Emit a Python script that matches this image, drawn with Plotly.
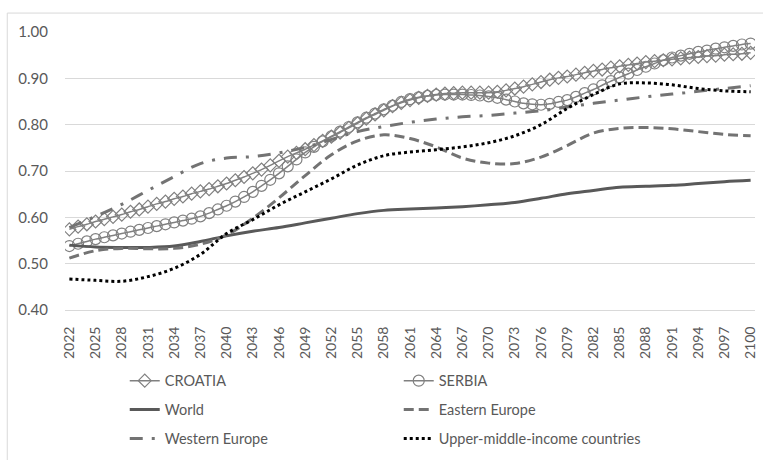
import plotly.graph_objects as go

# ---------------- data ----------------
years = list(range(2022, 2101))           # annual points (markers)
tick_years = list(range(2022, 2101, 3))   # 3-year points

croatia = [0.574, 0.580, 0.585, 0.591, 0.596, 0.601, 0.606, 0.612, 0.617, 0.623,
           0.629, 0.634, 0.640, 0.645, 0.651, 0.656, 0.661, 0.667, 0.673, 0.680,
           0.687, 0.695, 0.703, 0.712, 0.722, 0.731, 0.739, 0.747, 0.756, 0.765,
           0.774, 0.783, 0.793, 0.803, 0.813, 0.822, 0.831, 0.840, 0.847, 0.853,
           0.858, 0.862, 0.865, 0.867, 0.868, 0.869, 0.869, 0.869, 0.869, 0.871,
           0.874, 0.878, 0.882, 0.887, 0.892, 0.897, 0.901, 0.904, 0.908, 0.912,
           0.916, 0.919, 0.923, 0.926, 0.929, 0.932, 0.935, 0.937, 0.939, 0.941,
           0.943, 0.945, 0.946, 0.948, 0.949, 0.951, 0.952, 0.953, 0.955]

serbia = [0.538, 0.543, 0.548, 0.553, 0.557, 0.561, 0.565, 0.569, 0.573, 0.577,
          0.581, 0.585, 0.589, 0.593, 0.597, 0.602, 0.609, 0.617, 0.625, 0.634,
          0.644, 0.655, 0.668, 0.681, 0.695, 0.710, 0.725, 0.740, 0.752, 0.764,
          0.775, 0.785, 0.795, 0.805, 0.815, 0.824, 0.833, 0.841, 0.849, 0.855,
          0.859, 0.862, 0.864, 0.865, 0.865, 0.865, 0.864, 0.863, 0.861, 0.858,
          0.854, 0.850, 0.846, 0.844, 0.843, 0.845, 0.849, 0.853, 0.860, 0.868,
          0.876, 0.885, 0.894, 0.902, 0.910, 0.918, 0.925, 0.932, 0.939, 0.945,
          0.949, 0.953, 0.957, 0.960, 0.964, 0.967, 0.970, 0.973, 0.975]

world = [0.540, 0.536, 0.535, 0.535, 0.538, 0.548, 0.560, 0.570, 0.578, 0.588,
         0.598, 0.608, 0.615, 0.618, 0.620, 0.623, 0.627, 0.632, 0.641, 0.651,
         0.658, 0.665, 0.667, 0.669, 0.673, 0.677, 0.680]

eastern_europe = [0.512, 0.528, 0.533, 0.532, 0.533, 0.542, 0.562, 0.598, 0.642,
                  0.690, 0.735, 0.765, 0.778, 0.770, 0.752, 0.728, 0.717, 0.716,
                  0.730, 0.755, 0.782, 0.792, 0.794, 0.791, 0.785, 0.779, 0.776]

western_europe = [0.578, 0.602, 0.628, 0.658, 0.688, 0.716, 0.728, 0.731, 0.739,
                  0.751, 0.768, 0.785, 0.796, 0.805, 0.812, 0.817, 0.820, 0.825,
                  0.830, 0.838, 0.846, 0.853, 0.860, 0.866, 0.872, 0.878, 0.884]

upper_middle = [0.467, 0.464, 0.462, 0.472, 0.490, 0.520, 0.565, 0.595, 0.627,
                0.655, 0.683, 0.713, 0.733, 0.741, 0.746, 0.752, 0.761, 0.776,
                0.800, 0.835, 0.865, 0.888, 0.890, 0.886, 0.878, 0.873, 0.871]

assert len(croatia) == len(years) and len(serbia) == len(years)

FONT = "Lato"
TXT = "#595959"
GRID = "#d9d9d9"

fig = go.Figure()

fig.add_trace(go.Scatter(
    x=years, y=croatia, name="CROATIA", mode="lines+markers",
    line=dict(color="#808080", width=1.5, shape="spline", smoothing=0.6),
    marker=dict(symbol="diamond-open", size=10, color="#808080",
                line=dict(color="#808080", width=1.2)),
    legend="legend"))
fig.add_trace(go.Scatter(
    x=years, y=serbia, name="SERBIA", mode="lines+markers",
    line=dict(color="#808080", width=1.5, shape="spline", smoothing=0.6),
    marker=dict(symbol="circle-open", size=11, color="#808080",
                line=dict(color="#808080", width=1.2)),
    legend="legend"))
fig.add_trace(go.Scatter(
    x=tick_years, y=world, name="World", mode="lines",
    line=dict(color="#595959", width=3, shape="spline", smoothing=1.0),
    legend="legend2"))
fig.add_trace(go.Scatter(
    x=tick_years, y=eastern_europe, name="Eastern Europe", mode="lines",
    line=dict(color="#737373", width=3, dash="10px,5px", shape="spline", smoothing=1.0),
    legend="legend2"))
fig.add_trace(go.Scatter(
    x=tick_years, y=western_europe, name="Western Europe", mode="lines",
    line=dict(color="#737373", width=3, dash="13px,9px,3px,9px", shape="spline", smoothing=1.0),
    legend="legend3"))
fig.add_trace(go.Scatter(
    x=tick_years, y=upper_middle, name="Upper-middle-income countries", mode="lines",
    line=dict(color="#000000", width=3, dash="3px,3px", shape="spline", smoothing=1.0),
    legend="legend3"))

# plot area in pixels
L, R, T, B = 65, 5, 32, 149
W, H = 763, 460
pw, ph = W - L - R, H - T - B

def px_x(px):
    return (px - L) / pw

def px_y(py):
    return (H - B - py) / ph

leg_common = dict(orientation="h", xanchor="left", yanchor="middle",
                  x=px_x(125), entrywidth=229, entrywidthmode="pixels",
                  font=dict(family=FONT, size=14.5, color=TXT),
                  bgcolor="rgba(0,0,0,0)", borderwidth=0,
                  traceorder="normal")

fig.update_layout(
    width=W, height=H,
    margin=dict(l=L, r=R, t=T, b=B),
    paper_bgcolor="white", plot_bgcolor="white",
    font=dict(family=FONT, color=TXT),
    showlegend=True,
    legend=dict(leg_common, y=px_y(382)),
    legend2=dict(leg_common, y=px_y(411)),
    legend3=dict(leg_common, y=px_y(440)),
    xaxis=dict(range=[2021.5, 2100.5], tickmode="linear", tick0=2022, dtick=3,
               tickangle=-90, showgrid=False, zeroline=False,
               showline=True, linecolor=GRID, linewidth=1,
               ticks="", ticklabelstandoff=10,
               tickfont=dict(family=FONT, size=14, color=TXT)),
    yaxis=dict(range=[0.40, 1.00], tickmode="linear", tick0=0.4, dtick=0.1,
               tickformat=".2f", showgrid=True, gridcolor=GRID, gridwidth=1,
               zeroline=False, showline=False, ticks="", ticklabelstandoff=16,
               tickfont=dict(family=FONT, size=15, color=TXT)),
    shapes=[dict(type="rect", xref="paper", yref="paper",
                 x0=px_x(7), x1=px_x(790), y0=px_y(490), y1=px_y(13),
                 line=dict(color=GRID, width=1), fillcolor="rgba(0,0,0,0)",
                 layer="below")],
)

fig.write_html("out.html")
